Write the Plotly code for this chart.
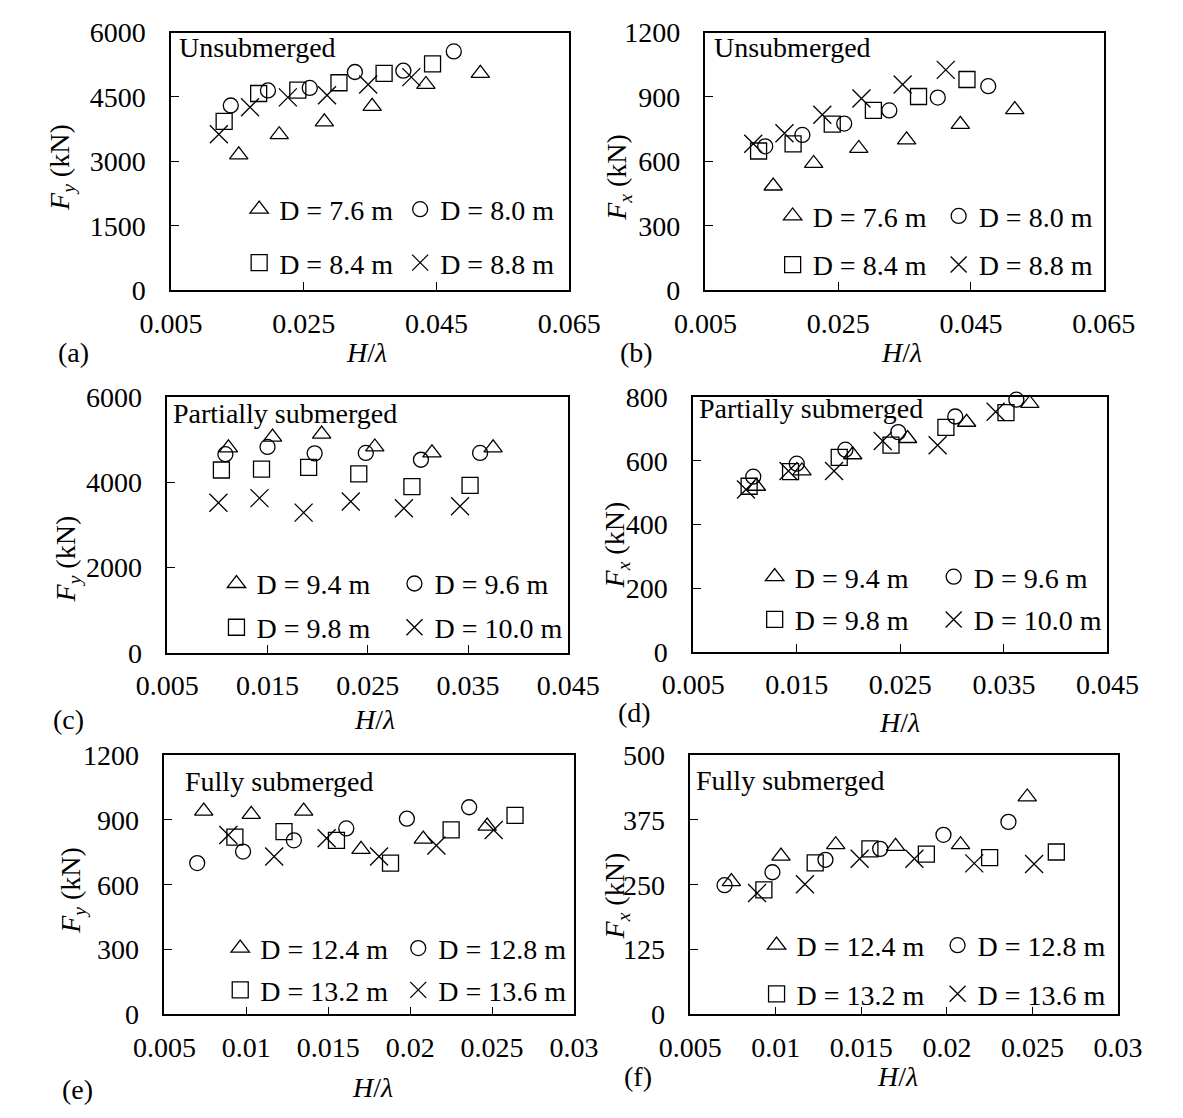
import plotly.graph_objects as go

W, H = 1183, 1118
FONT = "Liberation Serif"
FS = 28

# ---------------- data ----------------
# Unsubmerged (D = 7.6, 8.0, 8.4, 8.8 m)
unsub_labels = ["D = 7.6 m", "D = 8.0 m", "D = 8.4 m", "D = 8.8 m"]
unsub_hl_76 = [0.0152, 0.0213, 0.0281, 0.0353, 0.0434, 0.0516]
unsub_hl_80 = [0.0140, 0.0196, 0.0259, 0.0327, 0.0400, 0.0476]
unsub_hl_84 = [0.0130, 0.0182, 0.0241, 0.0303, 0.0371, 0.0444]
unsub_hl_88 = [0.0122, 0.0169, 0.0226, 0.0285, 0.0347, 0.0412]
unsub_fy_76 = [3150, 3620, 3920, 4280, 4790, 5050]
unsub_fy_80 = [4300, 4650, 4710, 5080, 5110, 5560]
unsub_fy_84 = [3930, 4580, 4660, 4830, 5050, 5270]
unsub_fy_88 = [3630, 4260, 4490, 4540, 4790, 4960]
unsub_fx_76 = [485, 590, 660, 700, 772, 841]
unsub_fx_80 = [670, 723, 776, 837, 897, 950]
unsub_fx_84 = [648, 681, 773, 837, 902, 981]
unsub_fx_88 = [682, 731, 817, 893, 958, 1026]

# Partially submerged (D = 9.4, 9.6, 9.8, 10.0 m)
part_labels = ["D = 9.4 m", "D = 9.6 m", "D = 9.8 m", "D = 10.0 m"]
part_hl_94 = [0.0111, 0.0155, 0.0204, 0.0257, 0.0314, 0.0375]
part_hl_96 = [0.0108, 0.0150, 0.0197, 0.0248, 0.0303, 0.0362]
part_hl_98 = [0.0104, 0.0144, 0.0191, 0.0241, 0.0294, 0.0352]
part_hl_100 = [0.0101, 0.0142, 0.0186, 0.0233, 0.0286, 0.0342]
part_fy_94 = [4810, 5060, 5130, 4830, 4690, 4810]
part_fy_96 = [4660, 4830, 4680, 4690, 4530, 4690]
part_fy_98 = [4290, 4310, 4350, 4200, 3900, 3930]
part_fy_100 = [3520, 3630, 3290, 3550, 3390, 3440]
part_fx_94 = [520, 568, 619, 670, 721, 780]
part_fx_96 = [550, 591, 635, 690, 739, 792]
part_fx_98 = [520, 566, 611, 649, 705, 751]
part_fx_100 = [510, 568, 568, 662, 649, 754]

# Fully submerged (D = 12.4, 12.8, 13.2, 13.6 m)
full_labels = ["D = 12.4 m", "D = 12.8 m", "D = 13.2 m", "D = 13.6 m"]
full_hl_124 = [0.0074, 0.0103, 0.0135, 0.0170, 0.0208, 0.0247]
full_hl_128 = [0.0070, 0.0098, 0.0129, 0.0161, 0.0198, 0.0236]
full_hl_132 = [0.0093, 0.0123, 0.0155, 0.0188, 0.0225, 0.0264]
full_hl_136 = [0.0089, 0.0117, 0.0149, 0.0181, 0.0216, 0.0251]
full_fy_124 = [940, 925, 940, 763, 811, 871]
full_fy_128 = [700, 753, 805, 860, 905, 958]
full_fy_132 = [820, 845, 805, 700, 853, 920]
full_fy_136 = [830, 730, 815, 730, 781, 853]
full_fx_124 = [256, 305, 327, 324, 327, 419]
full_fx_128 = [249, 274, 298, 319, 346, 371]
full_fx_132 = [240, 292, 319, 309, 302, 313]
full_fx_136 = [234, 251, 300, 300, 291, 290]

# axis ticks
x_ticks_unsub = ["0.005", "0.025", "0.045", "0.065"]
x_ticks_part = ["0.005", "0.015", "0.025", "0.035", "0.045"]
x_ticks_full = ["0.005", "0.01", "0.015", "0.02", "0.025", "0.03"]
y_ticks_a = [0, 1500, 3000, 4500, 6000]
y_ticks_b = [0, 300, 600, 900, 1200]
y_ticks_c = [0, 2000, 4000, 6000]
y_ticks_d = [0, 200, 400, 600, 800]
y_ticks_e = [0, 300, 600, 900, 1200]
y_ticks_f = [0, 125, 250, 375, 500]

unsub_hl = [unsub_hl_76, unsub_hl_80, unsub_hl_84, unsub_hl_88]
part_hl = [part_hl_94, part_hl_96, part_hl_98, part_hl_100]
full_hl = [full_hl_124, full_hl_128, full_hl_132, full_hl_136]

# panel definitions: (letter, regime text, labels, x lists, y lists, x ticks, y ticks, force component)
panels = [
    ("a", "Unsubmerged", unsub_labels, unsub_hl,
     [unsub_fy_76, unsub_fy_80, unsub_fy_84, unsub_fy_88], x_ticks_unsub, y_ticks_a, "y"),
    ("b", "Unsubmerged", unsub_labels, unsub_hl,
     [unsub_fx_76, unsub_fx_80, unsub_fx_84, unsub_fx_88], x_ticks_unsub, y_ticks_b, "x"),
    ("c", "Partially submerged", part_labels, part_hl,
     [part_fy_94, part_fy_96, part_fy_98, part_fy_100], x_ticks_part, y_ticks_c, "y"),
    ("d", "Partially submerged", part_labels, part_hl,
     [part_fx_94, part_fx_96, part_fx_98, part_fx_100], x_ticks_part, y_ticks_d, "x"),
    ("e", "Fully submerged", full_labels, full_hl,
     [full_fy_124, full_fy_128, full_fy_132, full_fy_136], x_ticks_full, y_ticks_e, "y"),
    ("f", "Fully submerged", full_labels, full_hl,
     [full_fx_124, full_fx_128, full_fx_132, full_fx_136], x_ticks_full, y_ticks_f, "x"),
]

# ---------------- layout geometry (pixels) ----------------
# plot frame: left, right, top, bottom
boxes = {
    "a": (147, 568, 18, 283),
    "b": (712, 1133, 18, 283),
    "c": (143, 567, 393, 656),
    "d": (699, 1137, 393, 655),
    "e": (140, 573, 761, 1028),
    "f": (696, 1148, 761, 1028),
}
# legend: marker centre x of column 1 & 2, centre y of row 1 & 2
legend_pos = {
    "a": (242, 411, 200, 255),
    "b": (806, 980, 207, 257),
    "c": (218, 404, 585, 630),
    "d": (787, 974, 578, 622),
    "e": (222, 408, 960, 1003),
    "f": (789, 978, 957, 1007),
}
# regime text: left x, centre y
regime_pos = {"a": (153, 33), "b": (719, 33), "c": (147, 410), "d": (703, 405),
              "e": (160, 788), "f": (700, 787)}
# y title centre
ytitle_pos = {"a": (31, 157), "b": (620, 167), "c": (38, 559), "d": (618, 545),
              "e": (42, 900), "f": (618, 906)}
# x title centre
xtitle_pos = {"a": (354, 347), "b": (919, 347), "c": (362, 725), "d": (917, 728),
              "e": (360, 1103), "f": (915, 1092)}
# panel letter centre
letter_pos = {"a": (44, 347), "b": (639, 347), "c": (39, 725), "d": (637, 717),
              "e": (48, 1105), "f": (641, 1092)}

symbols = ["triangle-up-open", "circle-open", "square-open", "x-thin-open"]
sizes = [16, 15, 16, 18]


def px(x):
    return x / W


def py(y):
    return 1 - y / H


font = dict(family=FONT, size=FS, color="black")
fig = go.Figure()
layout = dict(
    width=W, height=H, margin=dict(l=0, r=0, t=0, b=0),
    paper_bgcolor="white", plot_bgcolor="white",
    font=font, showlegend=True,
)
annotations = []
legend_idx = 0

for i, (key, regime, labels, xs, ys, xt, yt, comp) in enumerate(panels):
    n = "" if i == 0 else str(i + 1)
    l, r, t, b = boxes[key]
    xv = [float(v) for v in xt]
    axis_common = dict(
        showline=True, linecolor="black", linewidth=1.5, mirror=True,
        ticks="inside", ticklen=8, tickwidth=1.3, tickcolor="black",
        showgrid=False, zeroline=False, tickfont=font,
    )
    layout["xaxis" + n] = dict(
        domain=[px(l), px(r)], anchor="y" + n,
        range=[xv[0], xv[-1]], tickmode="array", tickvals=xv, ticktext=xt,
        ticklabelstandoff=7, **axis_common,
    )
    layout["yaxis" + n] = dict(
        domain=[py(b), py(t)], anchor="x" + n,
        range=[yt[0], yt[-1]], tickmode="array", tickvals=yt,
        ticktext=[str(v) for v in yt], ticklabelstandoff=18, **axis_common,
    )

    c1, c2, r1, r2 = legend_pos[key]
    pitch = c2 - c1
    row_legends = []
    for row_y in (r1, r2):
        legend_idx += 1
        lname = "legend" if legend_idx == 1 else "legend%d" % legend_idx
        layout[lname] = dict(
            x=px(c1 - 23), y=py(row_y), xanchor="left", yanchor="middle",
            orientation="h", bgcolor="rgba(0,0,0,0)", borderwidth=0,
            font=font, entrywidth=pitch - 53, entrywidthmode="pixels",
            tracegroupgap=0,
        )
        row_legends.append(lname)

    for k in range(4):
        fig.add_trace(go.Scatter(
            x=xs[k], y=ys[k], mode="markers", name=labels[k],
            xaxis="x" + n, yaxis="y" + n, cliponaxis=False,
            legend=row_legends[k // 2],
            marker=dict(symbol=symbols[k], size=sizes[k], color="black",
                        line=dict(color="black", width=1.3)),
        ))

    rx, ry = regime_pos[key]
    annotations.append(dict(x=px(rx), y=py(ry), xref="paper", yref="paper",
                            text=regime, showarrow=False, xanchor="left",
                            yanchor="middle", font=font))
    tx, ty = ytitle_pos[key]
    annotations.append(dict(x=px(tx), y=py(ty), xref="paper", yref="paper",
                            text="<i>F</i><sub><i>%s</i></sub> (kN)" % comp,
                            textangle=-90, showarrow=False, xanchor="center",
                            yanchor="middle", font=font))
    hx, hy = xtitle_pos[key]
    annotations.append(dict(x=px(hx), y=py(hy), xref="paper", yref="paper",
                            text="<i>H</i>/<i>λ</i>", showarrow=False,
                            xanchor="center", yanchor="middle", font=font))
    lx, ly = letter_pos[key]
    annotations.append(dict(x=px(lx), y=py(ly), xref="paper", yref="paper",
                            text="(%s)" % key, showarrow=False,
                            xanchor="center", yanchor="middle", font=font))

layout["annotations"] = annotations
fig.update_layout(**layout)
fig.write_html("out.html")
